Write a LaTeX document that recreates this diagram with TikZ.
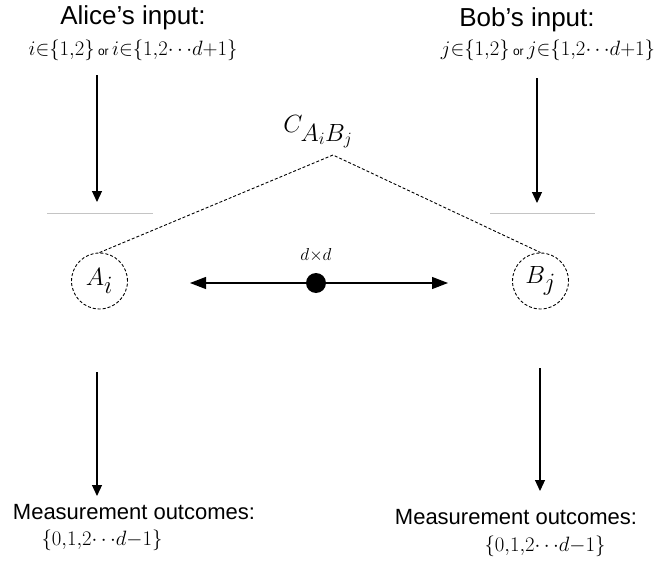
\documentclass[tikz,border=0pt]{standalone}
\usepackage{amsmath,amssymb}
\usepackage{fontspec}
\setmainfont{Liberation Sans}
\usetikzlibrary{arrows.meta,positioning,calc}
\definecolor{ink}{HTML}{000000}
\definecolor{shelfc}{HTML}{C4C4C4}
\tikzset{
  head/.style={font=\fontsize{26}{30}\selectfont, text=ink, inner sep=0pt},
  choice/.style={font=\fontsize{21}{24}\selectfont, text=ink, inner sep=0pt},
  outc/.style={font=\fontsize{22}{26}\selectfont, text=ink, inner sep=0pt},
  party/.style={circle, draw=ink, densely dashed, line width=0.9pt, minimum size=56pt, inner sep=0pt, font=\fontsize{33}{36}\selectfont},
  arr/.style={-{Triangle[length=11pt,width=10pt]}, line width=1.2pt, draw=ink},
  darr/.style={-{Triangle[length=16pt,width=12pt]}, line width=1.2pt, draw=ink},
  link/.style={densely dashed, line width=0.9pt, draw=ink},
  shelf/.style={line width=1pt, draw=shelfc},
}
\newcommand{\orword}{\text{\fontsize{12}{14}\selectfont\ or\ }}

\begin{document}
\begin{tikzpicture}[x=1pt, y=-1pt]
    \useasboundingbox (0,0) rectangle (657,562);
    % inputs
    \node[head] (ahead) at (133,18) {Alice’s input:};
    \node[head] (bhead) at (527,20) {Bob’s input:};
    \node[choice] (achoice) at (133,50) {$i{\in}\{1{,}2\}\orword i{\in}\{1{,}2{\cdots}d{+}1\}$};
    \node[choice] (bchoice) at (548,50) {$j{\in}\{1{,}2\}\orword j{\in}\{1{,}2{\cdots}d{+}1\}$};
    % parties
    \node[party] (A) at (99.5,281) {$A_i$};
    \node[party] (B) at (540.5,281) {$B_j$};
    \node[font=\fontsize{36}{40}\selectfont, inner sep=0pt] (C) at (318,132) {$C_{A_iB_j}$};
    \coordinate (apex) at (333,155);
    \draw[link] (A.north) -- (apex) -- (B.north);
    % shared state
    \node[circle, fill=ink, minimum size=20pt, inner sep=0pt] (dot) at (316,283) {};
    \node[font=\fontsize{17}{19}\selectfont, inner sep=0pt] (dim) at (316,255) {$d{\times}d$};
    \coordinate (sl) at (190,283);
    \coordinate (sr) at (448,283);
    \draw[darr] (dot.center) -- (sl);
    \draw[darr] (dot.center) -- (sr);
    % shelves
    \draw[shelf] (47,213) coordinate (ash1) -- (153,213) coordinate (ash2);
    \draw[shelf] (490,213) coordinate (bsh1) -- (595,213) coordinate (bsh2);
    % input arrows
    \coordinate (ai1) at (97,75);   \coordinate (ai2) at (97,202);
    \coordinate (bi1) at (537,78);  \coordinate (bi2) at (537,203);
    \draw[arr] (ai1) -- (ai2);
    \draw[arr] (bi1) -- (bi2);
    % outcomes
    \coordinate (ao1) at (97,372);  \coordinate (ao2) at (97,496);
    \coordinate (bo1) at (540,368); \coordinate (bo2) at (540,491);
    \draw[arr] (ao1) -- (ao2);
    \draw[arr] (bo1) -- (bo2);
    \node[outc] (aout) at (134,512) {Measurement outcomes:};
    \node[outc] (bout) at (516,517) {Measurement outcomes:};
    \node[choice] (aset) at (102,540) {$\{0{,}1{,}2{\cdots}d{-}1\}$};
    \node[choice] (bset) at (545,546) {$\{0{,}1{,}2{\cdots}d{-}1\}$};
\end{tikzpicture}
\end{document}
